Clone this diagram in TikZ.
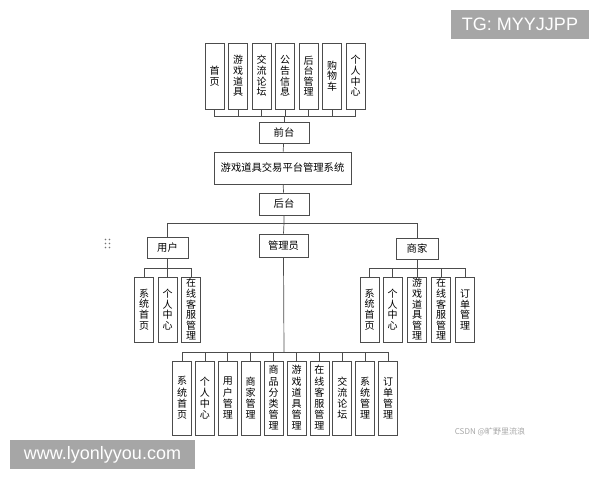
\documentclass[tikz,border=0pt]{standalone}
\usepackage{fontspec}
\setmainfont{Noto Sans CJK SC}
\newfontfamily\wmfont{Liberation Sans}
\usetikzlibrary{calc,positioning}

\tikzset{
  box/.style={draw=black!70, line width=0.7pt, inner sep=0pt, align=center, font=\fontsize{10.3}{12}\selectfont},
  vbox/.style={box, minimum width=19pt, minimum height=66pt, font=\fontsize{10}{10.6}\selectfont},
  abox/.style={vbox, minimum height=74pt, font=\fontsize{10}{11.2}\selectfont},
  link/.style={draw=black!70, line width=0.7pt},
  wmark/.style={fill=black!35, text=white, font=\wmfont\fontsize{18}{20}\selectfont, inner sep=0pt, minimum height=29pt}
}

\begin{document}
\begin{tikzpicture}[x=1pt,y=-1pt]
  \useasboundingbox (0,0) rectangle (600,480);

  % front end pages
  \node [vbox] (t1) at (214.5,76) {首\\页};
  \node [vbox] (t2) at (238,76) {游\\戏\\道\\具};
  \node [vbox] (t3) at (261.5,76) {交\\流\\论\\坛};
  \node [vbox] (t4) at (285,76) {公\\告\\信\\息};
  \node [vbox] (t5) at (308.5,76) {后\\台\\管\\理};
  \node [vbox] (t6) at (332,76) {购\\物\\车};
  \node [vbox] (t7) at (355.5,76) {个\\人\\中\\心};

  \node [box, minimum width=50pt, minimum height=21pt] (fr) at (284,132.5) {前台};
  \node [box, minimum width=137pt, minimum height=32pt] (sys) at (282.5,168) {游戏道具交易平台管理系统};
  \node [box, minimum width=50pt, minimum height=22pt] (bk) at (284,204) {后台};

  \node [box, minimum width=41pt, minimum height=21pt] (usr) at (167.5,247.5) {用户};
  \node [box, minimum width=49pt, minimum height=23pt] (adm) at (283.5,245.5) {管理员};
  \node [box, minimum width=42pt, minimum height=21pt] (mer) at (417,248.5) {商家};

  % user
  \node [vbox, minimum height=65pt] (u1) at (144,309.5) {系\\统\\首\\页};
  \node [vbox, minimum height=65pt] (u2) at (167.5,309.5) {个\\人\\中\\心};
  \node [vbox, minimum height=65pt] (u3) at (191,309.5) {在\\线\\客\\服\\管\\理};

  % merchant
  \node [vbox, minimum height=65pt] (m1) at (369.5,309.5) {系\\统\\首\\页};
  \node [vbox, minimum height=65pt] (m2) at (392.5,309.5) {个\\人\\中\\心};
  \node [vbox, minimum height=65pt] (m3) at (417,309.5) {游\\戏\\道\\具\\管\\理};
  \node [vbox, minimum height=65pt] (m4) at (441,309.5) {在\\线\\客\\服\\管\\理};
  \node [vbox, minimum height=65pt] (m5) at (465,309.5) {订\\单\\管\\理};

  % admin
  \node [abox] (a1) at (182,398) {系\\统\\首\\页};
  \node [abox] (a2) at (204.9,398) {个\\人\\中\\心};
  \node [abox] (a3) at (227.8,398) {用\\户\\管\\理};
  \node [abox] (a4) at (250.7,398) {商\\家\\管\\理};
  \node [abox] (a5) at (273.6,398) {商\\品\\分\\类\\管\\理};
  \node [abox] (a6) at (296.5,398) {游\\戏\\道\\具\\管\\理};
  \node [abox] (a7) at (319.4,398) {在\\线\\客\\服\\管\\理};
  \node [abox] (a8) at (342.3,398) {交\\流\\论\\坛};
  \node [abox] (a9) at (365.2,398) {系\\统\\管\\理};
  \node [abox] (a10) at (388.1,398) {订\\单\\管\\理};

  % bus points
  \coordinate (tb) at (284,116);
  \coordinate (bb) at (284,223);
  \coordinate (ub) at (167.5,268);
  \coordinate (mb) at (417,268);
  \coordinate (ab) at (284,352);

  \foreach \i in {1,...,7}
    \draw [link] (t\i.south) |- (tb);
  \draw [link] (tb) -- (fr.north);
  \draw [link] (fr) -- (sys);
  \draw [link] (sys) -- (bk);
  \draw [link] (bk.south) -- (bb) -- (adm.north);
  \draw [link] (usr.north) |- (bb);
  \draw [link] (mer.north) |- (bb);

  \draw [link] (usr.south) -- (ub);
  \foreach \i in {1,...,3}
    \draw [link] (u\i.north) |- (ub);
  \draw [link] (mer.south) -- (mb);
  \foreach \i in {1,...,5}
    \draw [link] (m\i.north) |- (mb);
  \draw [link] (adm.south) -- (ab);
  \foreach \i in {1,...,10}
    \draw [link] (a\i.north) |- (ab);

  % handle dots
  \foreach \dx in {105.5,109.5}
    \foreach \dy in {239.5,243.5,247.5}
      \fill [black!55] (\dx,\dy) circle (0.9pt);

  % watermarks
  \node [wmark, minimum width=138pt] (tg) at (520,24.5) {TG: MYYJJPP};
  \node [wmark, minimum width=185pt] (web) at (102.5,454.5) {www.lyonlyyou.com};
  \node [text=black!35, font=\fontsize{8}{10}\selectfont, inner sep=0pt] (csdn) at (490,432) {CSDN @旷野里流浪};
\end{tikzpicture}
\end{document}
